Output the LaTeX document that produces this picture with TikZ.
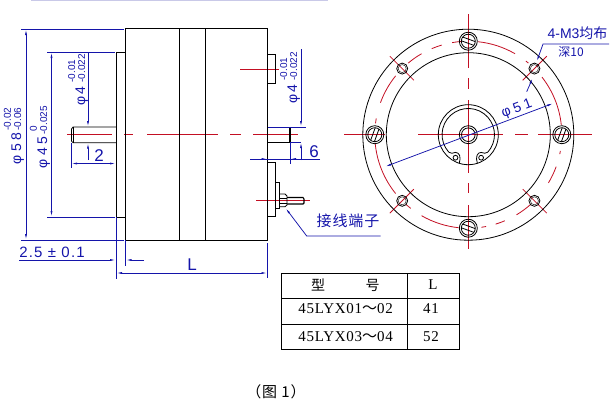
\documentclass[tikz,border=0pt]{standalone}
\usepackage{fontspec}
\setmainfont{Liberation Serif}
\newfontfamily\cjk{Noto Sans CJK SC}
\newfontfamily\cjkwide[LetterSpace=6]{Noto Sans CJK SC}
\newfontfamily\dimfont[LetterSpace=25]{Liberation Sans}
\newfontfamily\stepfont[LetterSpace=8]{Liberation Sans}
\newfontfamily\tolfont{Liberation Sans}
\newfontfamily\tabfont[LetterSpace=5]{Liberation Serif}
\usetikzlibrary{arrows.meta}
\definecolor{dimblue}{RGB}{20,20,170}
\definecolor{axisred}{RGB}{195,15,35}
\newcommand{\tolstack}[2]{\kern2pt\shortstack[l]{\tolfont\fontsize{10}{11}\selectfont #1\\\tolfont\fontsize{10}{11}\selectfont #2}}
\tikzset{
  part/.style={black, line width=.8pt},
  axis/.style={axisred, line width=.8pt},
  dimline/.style={dimblue, line width=.75pt},
  dimtext/.style={text=dimblue, inner sep=0pt, font=\dimfont\fontsize{14}{14}\selectfont},
  tabletext/.style={inner sep=0pt, font=\tabfont\fontsize{15}{15}\selectfont},
  cjktext/.style={inner sep=0pt, font=\cjk\fontsize{14}{14}\selectfont}
}
\begin{document}
\begin{tikzpicture}[x=1pt,y=1pt,>={Latex[length=6pt,width=2pt]}]
\useasboundingbox (0,0) rectangle (615,-400);
\fill[blue!40!gray!30] (31,0) rectangle (328,-1.2);
% side view
\draw[axis] (67,-134.7)--(112,-134.7) (124,-134.7)--(133,-134.7) (147,-134.7)--(218,-134.7)
  (230,-134.7)--(241,-134.7) (253,-134.7)--(298,-134.7) (344,-134.7)--(385,-134.7);
\draw[axis] (240,-69)--(279,-69);
\draw[axis] (256,-200)--(310,-200);
\draw[part] (125.5,-28.7) rectangle (267.5,-240);
\draw[part] (179.5,-28.7)--(179.5,-240) (205.5,-28.7)--(205.5,-240);
\draw[part] (125.5,-52)--(116,-52)--(116,-217)--(125.5,-217);
\draw[part] (116,-127)--(73,-127)--(71.5,-129)--(71.5,-141)--(73,-142.7)--(116,-142.7);
\draw[part] (73,-127)--(73,-142.7);
\draw[part] (267.5,-54)--(275.5,-54)--(275.5,-83)--(267.5,-83);
\draw[part] (267.5,-127)--(290,-127) (267.5,-142)--(290,-142);
\draw[black, line width=1.4pt] (290,-127)--(290,-142);
\draw[part] (267.5,-162)--(275.5,-162)--(275.5,-216)--(267.5,-216);
\draw[part] (275.5,-182)--(279.5,-182)--(279.5,-208.7)--(275.5,-208.7);
\draw[part] (279.5,-194)--(285,-194)--(287,-196)--(287,-205)--(285,-206.7)--(279.5,-206.7)--cycle;
\draw[part] (279.5,-198)--(287,-198) (279.5,-203)--(287,-203);
\draw[black, line width=1.1pt] (287,-197.5)--(303,-197.5)--(304,-199)--(304,-203)--(303,-204)--(287,-204);
% dimensions left
\draw[dimline] (21,-29)--(124,-29) (21,-240)--(124,-240);
\draw[dimline,<->] (26,-29)--(26,-240);
\draw[dimline] (47,-52)--(115,-52) (47,-217)--(115,-217);
\draw[dimline,<->] (51.5,-52)--(51.5,-217);
\draw[dimline,->] (88,-52)--(88,-127);
\draw[dimline,->] (88,-160)--(88,-142.7);
\draw[dimline] (71,-142.7)--(71,-168);
\draw[dimline,<->] (71,-163.5)--(116,-163.5);
\draw[dimline] (116,-217)--(116,-279) (125.5,-240)--(125.5,-266);
\draw[dimline,->] (19,-260)--(116,-260);
\draw[dimline,->] (144,-260)--(125.5,-260);
\draw[dimline,<->] (116,-273)--(267.5,-273);
\draw[dimline] (267.5,-243)--(267.5,-278);
% dimensions right of body
\draw[dimline] (267.5,-127)--(306,-127) (290,-142)--(301,-142);
\draw[dimline,->] (301,-49)--(301,-127);
\draw[dimline,->] (301,-160)--(301,-142);
\draw[dimline] (290,-142)--(290,-164);
\draw[dimline] (250,-159)--(320,-159);
\draw[dimline,->] (250,-159)--(267.5,-159);
\draw[dimline,->] (320,-159)--(290,-159);
\coordinate (termtip) at (285.5,-208);
\coordinate (termbend) at (306.7,-236);
\coordinate (termend) at (380.7,-236);
\draw[dimline,<-] (termtip)--(termbend)--(termend);
\node[dimtext,rotate=90] (dsixty) at (14,-136) {φ58\tolstack{-0.02}{-0.06}};
\node[dimtext,rotate=90] (dfive) at (40,-137) {φ45\tolstack{\ 0}{-0.025}};
\node[dimtext,rotate=90] (dshaftl) at (78,-80) {φ\,4\kern2pt\tolstack{-0.01}{-0.022}};
\node[dimtext,rotate=90] (dshaftr) at (290,-78) {φ\,4\kern2pt\tolstack{-0.01}{-0.022}};
\node[dimtext,font=\tolfont\fontsize{17}{17}\selectfont] (ltwo) at (99,-156) {2};
\node[dimtext,font=\tolfont\fontsize{17}{17}\selectfont] (lsix) at (314,-152) {6};
\node[dimtext,font=\stepfont\fontsize{15}{15}\selectfont] (lstep) at (52,-252) {2.5 ± 0.1};
\node[dimtext,font=\tolfont\fontsize{17}{17}\selectfont] (llen) at (192,-265) {L};
\node[cjktext,text=dimblue,font=\cjkwide\fontsize{15}{15}\selectfont] (lterm) at (348,-221) {接线端子};
% end view
\begin{scope}[shift={(468.3,-134.7)}]
\foreach \a/\b in {84/60,52/50,38/6,113/106.5,100/94,130/120,160/141,173/170,185/219,228/232,240/264,278/281,287/293,301/312,329/340,348/350}
  \draw[axis] (\a:93.5) arc[start angle=\a,end angle=\b,radius=93.5];
\draw[axis] (0,120.7)--(0,66.7) (0,56.7)--(0,45.7) (0,34.7)--(0,-38.3) (0,-48.3)--(0,-58.3) (0,-70.3)--(0,-114.3);
\draw[axis] (-50.3,0)--(34.7,0) (46.7,0)--(59.7,0) (69.7,0)--(123.7,0);
\foreach \a in {45,135,225,315}
  \draw[axis] (\a:77)--(\a:111);
\draw[part] (0,0) circle[radius=105.5];
\draw[part] (0,0) circle[radius=82];
\foreach \a/\s in {0/70,90/-20,180/70,270/-20}{
  \draw[part] (\a:93.5) circle[radius=9];
  \draw[part] (\a:93.5) circle[radius=7];
  \begin{scope}[shift={(\a:93.5)},rotate=\s]
    \clip (0,0) circle[radius=7];
    \draw[part] (-8,2)--(8,2) (-8,-2)--(8,-2);
  \end{scope}
}
\foreach \a in {45,135,225,315}{
  \draw[part] (\a:93.5) circle[radius=5.5];
  \draw[part,line width=.4pt] (\a:93.5) circle[radius=4];
}
% hub
\draw[part] (0,0) circle[radius=30];
\draw[part] (-19.5,-17.5) arc[start angle=222,end angle=-42,radius=26.2];
\draw[part] (-12.8,-23) circle[radius=2.4];
\draw[part] (12.8,-23) circle[radius=2.4];
\draw[part] (-19.5,-17.5)..controls (-17,-20) and (-16,-17.7) .. (-12.8,-17.7)..controls (-9,-17.7) and (-7,-22) .. (-9,-28.5);
\draw[part] (19.5,-17.5)..controls (17,-20) and (16,-17.7) .. (12.8,-17.7)..controls (9,-17.7) and (7,-22) .. (9,-28.5);
\draw[part] (0,0) circle[radius=9];
\draw[part] (0,0) circle[radius=6.8];
\end{scope}
% end view dimensions
\coordinate (pcdl) at (385,-166.7);
\coordinate (pcdr) at (553.3,-103.3);
\draw[dimline,<->] (pcdl)--(pcdr);
\coordinate (holetip) at (536.7,-61.7);
\coordinate (holebend) at (543,-44);
\coordinate (holeend) at (609,-44);
\coordinate (holelow) at (526.7,-91.7);
\coordinate (holeup) at (532.7,-78);
\draw[dimline,<-] (holetip)--(holebend)--(holeend);
\draw[dimline,->] (holelow)--(holeup);
\node[dimtext,rotate=20.6] (pcdtext) at (517,-109) {φ51};
\node[dimtext,font=\tolfont\fontsize{14}{14}\selectfont] (holetext) at (577.5,-33) {4-M3\cjk 均布};
\node[dimtext,font=\cjk\fontsize{12}{12}\selectfont] (depthtext) at (571,-52) {深10};
% table
\draw[part] (281.7,-273.3) rectangle (459.3,-349.3);
\draw[part] (281.7,-298.3)--(459.3,-298.3) (281.7,-324.3)--(459.3,-324.3) (407.7,-273.3)--(407.7,-349.3);
\node[cjktext] (typea) at (318,-285) {型};
\node[cjktext] (typeb) at (372.7,-285) {号};
\node[tabletext] (headl) at (433,-285) {L};
\node[tabletext] (rowa) at (345.7,-309) {45LYX01{\cjk ～}02};
\node[tabletext] (vala) at (431,-309) {41};
\node[tabletext] (rowb) at (345.7,-337) {45LYX03{\cjk ～}04};
\node[tabletext] (valb) at (431,-337) {52};
\node[cjktext,font=\cjkwide\fontsize{15}{15}\selectfont] (caption) at (276,-392) {（图 1）};
\end{tikzpicture}
\end{document}
